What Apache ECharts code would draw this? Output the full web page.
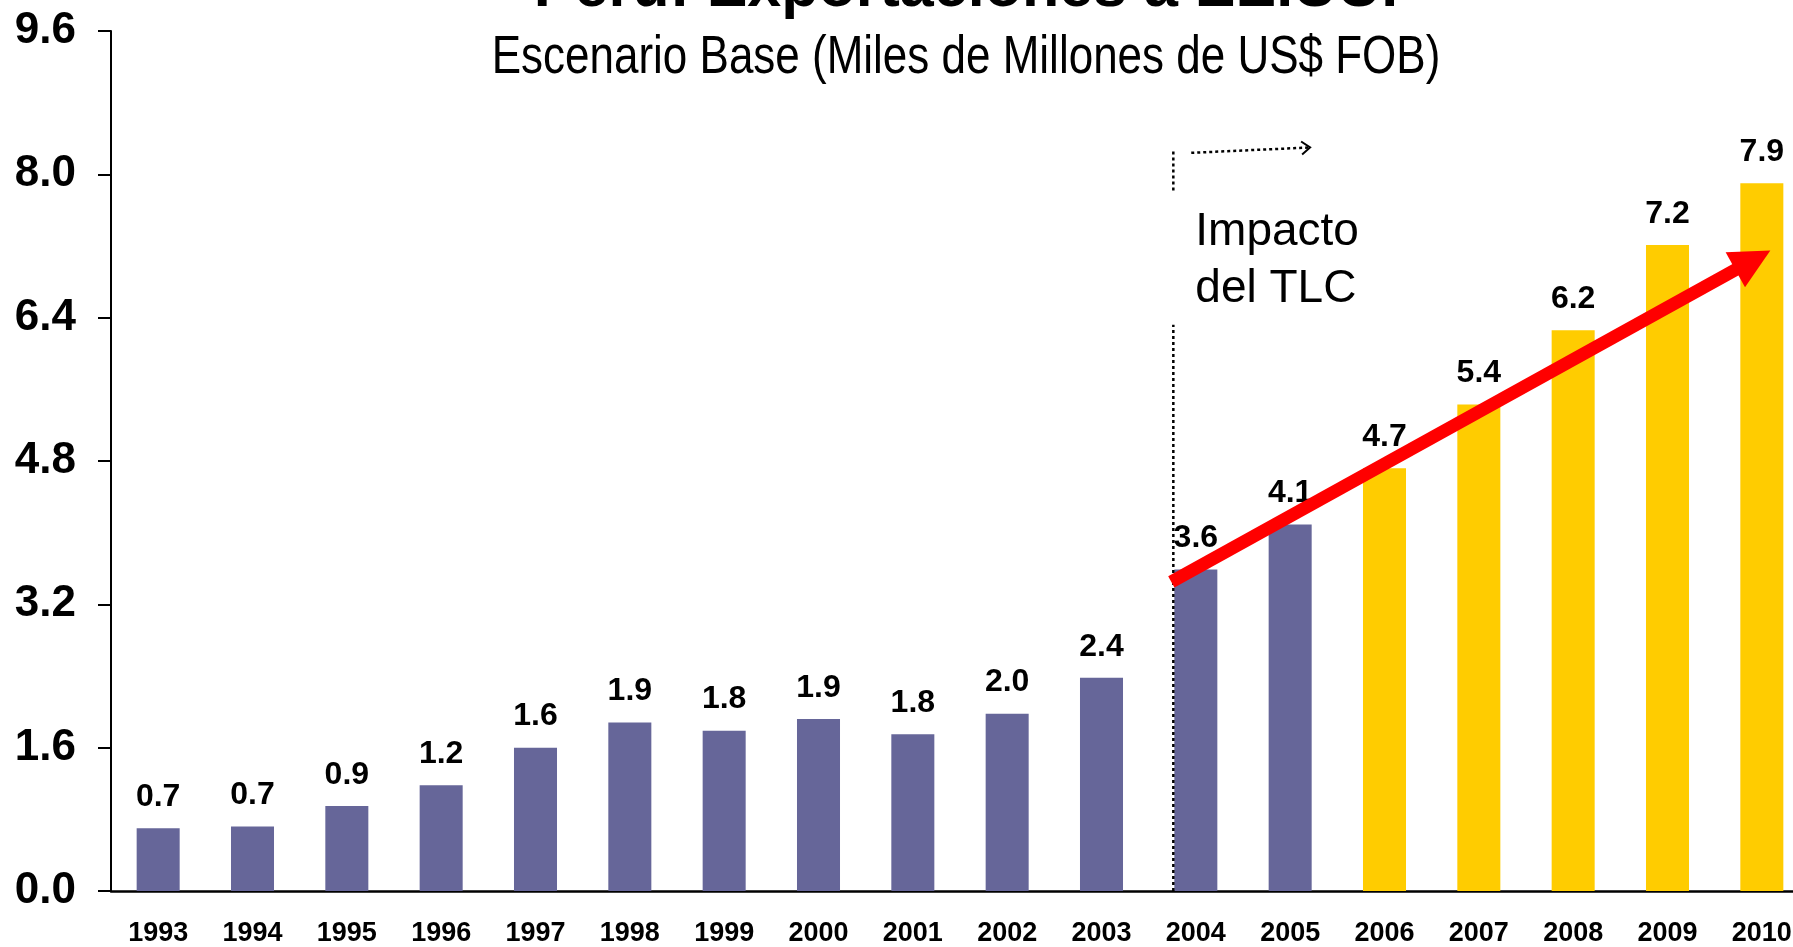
<!DOCTYPE html>
<html>
  <head>
    <title>Perú: Exportaciones a EE.UU.</title>
    <meta charset="utf-8">
    <script type="text/javascript" src="https://cdn.jsdelivr.net/npm/echarts@6/dist/echarts.min.js"></script>
    <style>html, body { margin: 0; padding: 0; background: #fff; overflow: hidden; }</style>
  </head>
  <body>
    <!-- el grafico original se sale un poco por la derecha -->
    <div id="main" style="width: 1812px; height: 947px;"></div>

    <script type="text/javascript">
    // datos
    var years = ['1993', '1994', '1995', '1996', '1997', '1998', '1999', '2000', '2001',
                 '2002', '2003', '2004', '2005', '2006', '2007', '2008', '2009', '2010'];
    var exportValues = [0.70, 0.72, 0.95, 1.18, 1.60, 1.88, 1.79, 1.92, 1.75,
                        1.98, 2.38, 3.59, 4.09, 4.72, 5.43, 6.26, 7.21, 7.90];
    var valueLabels = ['0.7', '0.7', '0.9', '1.2', '1.6', '1.9', '1.8', '1.9', '1.8',
                       '2.0', '2.4', '3.6', '4.1', '4.7', '5.4', '6.2', '7.2', '7.9'];
    var firstProjected = '2006';
    var yMin = 0, yMax = 9.6, yStep = 1.6;

    var purple = '#666699';
    var yellow = '#FFCC00';
    var barPct = 0.456;

    var dom = document.getElementById('main');
    var myChart = echarts.init(dom, null, { renderer: 'canvas' });
    var projIdx = years.indexOf(firstProjected);

    var option = {
      animation: false,
      backgroundColor: '#ffffff',
      grid: { left: 111, top: 31, width: 1698, height: 865, containLabel: false },
      xAxis: {
        type: 'category',
        data: years,
        axisLine: { lineStyle: { color: '#000', width: 2.5 } },
        axisTick: { length: 8, lineStyle: { color: '#000', width: 2 } },
        axisLabel: {
          margin: 29, color: '#000', fontWeight: 'bold', fontSize: 27,
          fontFamily: 'Liberation Sans, Arial, sans-serif', interval: 0
        }
      },
      yAxis: {
        type: 'value',
        min: yMin, max: yMax, interval: yStep,
        splitLine: { show: false },
        axisLine: { show: true, lineStyle: { color: '#000', width: 2 } },
        axisTick: { show: true, length: 13, lineStyle: { color: '#000', width: 2 } },
        axisLabel: {
          margin: 35, color: '#000', fontWeight: 'bold', fontSize: 44,
          fontFamily: 'Liberation Sans, Arial, sans-serif',
          formatter: function (v) { return v.toFixed(1); }
        }
      },
      series: [{
        type: 'bar',
        data: exportValues,
        barWidth: (barPct * 100) + '%',
        itemStyle: {
          color: function (p) { return p.dataIndex >= projIdx ? yellow : purple; }
        },
        label: {
          show: true, position: 'top', distance: 15,
          color: '#000', fontWeight: 'bold', fontSize: 32,
          fontFamily: 'Liberation Sans, Arial, sans-serif',
          formatter: function (p) { return valueLabels[p.dataIndex]; }
        }
      }]
    };
    myChart.setOption(option);

    // anotaciones: posiciones a partir de los ejes
    function px(i, v) { return myChart.convertToPixel({ gridIndex: 0 }, [i, v]); }
    var catW = px(1, 0)[0] - px(0, 0)[0];
    var i2004 = years.indexOf('2004');
    var lineX = px(i2004, 0)[0] - catW * barPct / 2 - 1;
    function yv(v) { return px(0, v)[1]; }

    var arrStart = [lineX - 2, yv(3.45)];
    var arrTip = [px(years.length - 1, 0)[0] + catW * 0.09, yv(7.15)];
    var dx = arrTip[0] - arrStart[0], dy = arrTip[1] - arrStart[1];
    var len = Math.sqrt(dx * dx + dy * dy);
    var ux = dx / len, uy = dy / len;
    var headL = 40, headW = 20;
    var base = [arrTip[0] - ux * headL, arrTip[1] - uy * headL];

    var dotted = { stroke: '#000', lineWidth: 2.5, lineDash: [3, 3] };
    var sans = 'Liberation Sans, Arial, sans-serif';

    myChart.setOption({
      graphic: [
        { type: 'text', x: 966, y: -11, z: 10,
          style: { text: 'Perú: Exportaciones a EE.UU.', fill: '#000', font: 'bold 61px ' + sans,
                   align: 'center', verticalAlign: 'middle' } },
        // subtitulo en letra estrecha (no hay Arial Narrow, se comprime)
        { type: 'text', x: 966, y: 58, z: 10, scaleX: 0.83,
          style: { text: 'Escenario Base (Miles de Millones de US$ FOB)', fill: '#000',
                   font: '53px ' + sans, align: 'center', verticalAlign: 'middle' } },
        { type: 'line', z: 5, shape: { x1: lineX, y1: yv(0), x2: lineX, y2: yv(6.32) }, style: dotted },
        { type: 'line', z: 5, shape: { x1: lineX, y1: yv(7.82), x2: lineX, y2: yv(8.27) }, style: dotted },
        { type: 'line', z: 5,
          shape: { x1: lineX + catW * 0.19, y1: yv(8.24), x2: lineX + catW * 1.45, y2: yv(8.30) },
          style: dotted },
        { type: 'polyline', z: 5,
          shape: { points: [[lineX + catW * 1.45 - 9, yv(8.30) - 6], [lineX + catW * 1.45, yv(8.30)],
                            [lineX + catW * 1.45 - 8, yv(8.30) + 7]] },
          style: { stroke: '#000', lineWidth: 2, fill: null } },
        { type: 'text', x: lineX + 22, y: yv(7.35), z: 10,
          style: { text: 'Impacto', fill: '#000', font: '46px ' + sans, verticalAlign: 'middle' } },
        { type: 'text', x: lineX + 22, y: yv(6.72), z: 10,
          style: { text: 'del TLC', fill: '#000', font: '46px ' + sans, verticalAlign: 'middle' } },
        { type: 'line', z: 20,
          shape: { x1: arrStart[0], y1: arrStart[1], x2: base[0] + ux * 2, y2: base[1] + uy * 2 },
          style: { stroke: '#FF0000', lineWidth: 13 } },
        { type: 'polygon', z: 20,
          shape: { points: [arrTip, [base[0] - uy * headW, base[1] + ux * headW],
                            [base[0] + uy * headW, base[1] - ux * headW]] },
          style: { fill: '#FF0000' } }
      ]
    });
    </script>
  </body>
</html>
